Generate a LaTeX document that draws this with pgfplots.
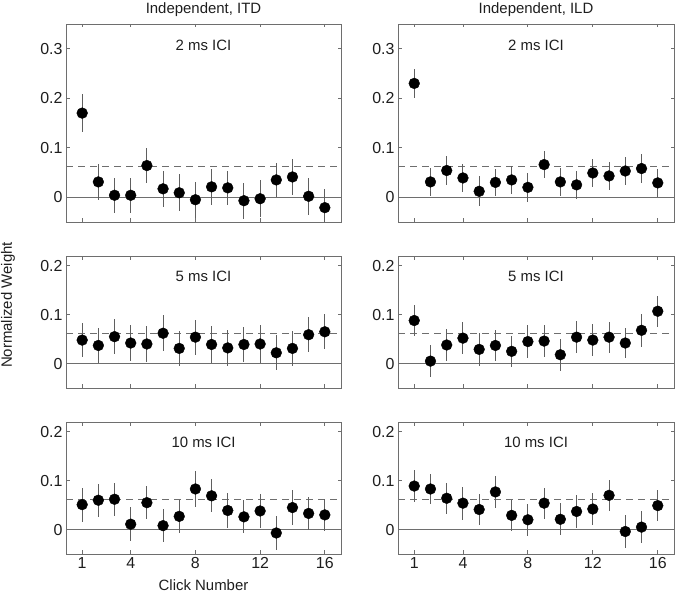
\documentclass[border=0pt]{standalone}
\usepackage{fontspec}
\setmainfont{Liberation Sans}
\usepackage{pgfplots}
\pgfplotsset{compat=1.18}
\usepackage{pgfplotstable}

\definecolor{axgray}{RGB}{110,110,110}
\definecolor{ebgray}{RGB}{95,95,95}
\definecolor{txt}{RGB}{30,30,30}

\pgfplotstableread{
x y e
1 0.170 0.038
2 0.031 0.036
3 0.004 0.035
4 0.004 0.035
5 0.064 0.036
6 0.017 0.036
7 0.009 0.037
8 -0.005 0.036
9 0.021 0.036
10 0.019 0.035
11 -0.007 0.036
12 -0.003 0.037
13 0.035 0.035
14 0.041 0.036
15 0.002 0.037
16 -0.021 0.037
}\tTL
\pgfplotstableread{
x y e
1 0.230 0.029
2 0.031 0.028
3 0.054 0.030
4 0.039 0.029
5 0.012 0.030
6 0.030 0.028
7 0.035 0.029
8 0.020 0.029
9 0.066 0.028
10 0.031 0.028
11 0.025 0.028
12 0.049 0.029
13 0.043 0.028
14 0.053 0.028
15 0.058 0.029
16 0.029 0.028
}\tTR
\pgfplotstableread{
x y e
1 0.048 0.035
2 0.037 0.036
3 0.055 0.036
4 0.042 0.036
5 0.040 0.036
6 0.062 0.037
7 0.031 0.036
8 0.054 0.036
9 0.039 0.037
10 0.032 0.037
11 0.039 0.035
12 0.040 0.038
13 0.022 0.036
14 0.031 0.036
15 0.059 0.036
16 0.065 0.036
}\tML
\pgfplotstableread{
x y e
1 0.088 0.032
2 0.005 0.033
3 0.038 0.033
4 0.052 0.033
5 0.029 0.033
6 0.037 0.032
7 0.025 0.032
8 0.045 0.033
9 0.046 0.032
10 0.018 0.033
11 0.054 0.033
12 0.048 0.032
13 0.054 0.032
14 0.042 0.031
15 0.068 0.034
16 0.107 0.032
}\tMR
\pgfplotstableread{
x y e
1 0.051 0.035
2 0.060 0.034
3 0.062 0.034
4 0.011 0.035
5 0.055 0.034
6 0.008 0.034
7 0.027 0.034
8 0.083 0.037
9 0.069 0.034
10 0.039 0.036
11 0.026 0.034
12 0.038 0.034
13 -0.007 0.034
14 0.045 0.035
15 0.033 0.034
16 0.030 0.033
}\tBL
\pgfplotstableread{
x y e
1 0.089 0.033
2 0.083 0.031
3 0.064 0.032
4 0.054 0.034
5 0.041 0.031
6 0.077 0.033
7 0.029 0.031
8 0.020 0.033
9 0.054 0.032
10 0.021 0.033
11 0.037 0.033
12 0.042 0.033
13 0.070 0.032
14 -0.004 0.033
15 0.005 0.032
16 0.049 0.032
}\tBR

\pgfplotsset{
  panel/.style={
    scale only axis,
    anchor=south west,
    xmin=0, xmax=17,
    xtick={1,4,8,12,16},
    tick align=inside,
    major tick length=3.5bp,
    axis line style={axgray, line width=0.9pt},
    every tick/.style={axgray, line width=0.8pt},
    tick label style={font=\fontsize{16}{18}\selectfont, text=txt},
    /pgf/number format/assume math mode=true,
    yticklabel style={/pgf/number format/fixed, /pgf/number format/precision=1},
    scaled y ticks=false,
    clip=true,
  },
  ebplot/.style={only marks, mark=none,
    error bars/.cd, y dir=both, y explicit,
    error bar style={ebgray, line width=1.1pt}, error mark=none},
  dotplot/.style={only marks, mark=*, mark size=5.4bp, mark options={fill=black, draw=black}},
}

\newcommand{\panelbody}[1]{%
  \draw[axgray, line width=0.9pt] (axis cs:0,0) -- (axis cs:17,0);
  \draw[axgray, dash pattern=on 7bp off 5bp, line width=0.9pt] (axis cs:0,0.0625) -- (axis cs:17,0.0625);
  \addplot[ebplot] table[x=x, y=y, y error=e] {#1};
  \addplot[dotplot] table[x=x, y=y] {#1};
}

\begin{document}
\begin{tikzpicture}
\useasboundingbox (0bp,0bp) rectangle (676bp,593bp);

% ---- top left
\begin{axis}[panel, at={(66bp,371bp)}, width=275bp, height=198bp,
  ymin=-0.05, ymax=0.35, ytick={0,0.1,0.2,0.3}, xticklabels={}]
  \panelbody{\tTL}
  \node[font=\fontsize{15}{17}\selectfont, text=txt] at (rel axis cs:0.5,0.894) {2 ms ICI};
\end{axis}
\node[font=\fontsize{15}{17}\selectfont, text=txt] at (203.5bp,583bp) {Independent, ITD};

% ---- top right
\begin{axis}[panel, at={(398bp,371bp)}, width=276bp, height=198bp,
  ymin=-0.05, ymax=0.35, ytick={0,0.1,0.2,0.3}, xticklabels={}]
  \panelbody{\tTR}
  \node[font=\fontsize{15}{17}\selectfont, text=txt] at (rel axis cs:0.5,0.894) {2 ms ICI};
\end{axis}
\node[font=\fontsize{15}{17}\selectfont, text=txt] at (536bp,583bp) {Independent, ILD};

% ---- middle left
\begin{axis}[panel, at={(66bp,205bp)}, width=275bp, height=132bp,
  ymin=-0.05, ymax=0.22, ytick={0,0.1,0.2}, xticklabels={}]
  \panelbody{\tML}
  \node[font=\fontsize{15}{17}\selectfont, text=txt] at (rel axis cs:0.5,0.848) {5 ms ICI};
\end{axis}

% ---- middle right
\begin{axis}[panel, at={(398bp,205bp)}, width=276bp, height=132bp,
  ymin=-0.05, ymax=0.22, ytick={0,0.1,0.2}, xticklabels={}]
  \panelbody{\tMR}
  \node[font=\fontsize{15}{17}\selectfont, text=txt] at (rel axis cs:0.5,0.848) {5 ms ICI};
\end{axis}

% ---- bottom left
\begin{axis}[panel, at={(66bp,39bp)}, width=275bp, height=132bp,
  ymin=-0.05, ymax=0.22, ytick={0,0.1,0.2}, xticklabels={1,4,8,12,16}]
  \panelbody{\tBL}
  \node[font=\fontsize{15}{17}\selectfont, text=txt] at (rel axis cs:0.5,0.843) {10 ms ICI};
\end{axis}

% ---- bottom right
\begin{axis}[panel, at={(398bp,39bp)}, width=276bp, height=132bp,
  ymin=-0.05, ymax=0.22, ytick={0,0.1,0.2}, xticklabels={1,4,8,12,16}]
  \panelbody{\tBR}
  \node[font=\fontsize{15}{17}\selectfont, text=txt] at (rel axis cs:0.5,0.843) {10 ms ICI};
\end{axis}

\node[font=\fontsize{15}{17}\selectfont, text=txt] at (203.5bp,8bp) {Click Number};
\node[font=\fontsize{15}{17}\selectfont, text=txt, rotate=90] at (8bp,288bp) {Normalized Weight};
\end{tikzpicture}
\end{document}
